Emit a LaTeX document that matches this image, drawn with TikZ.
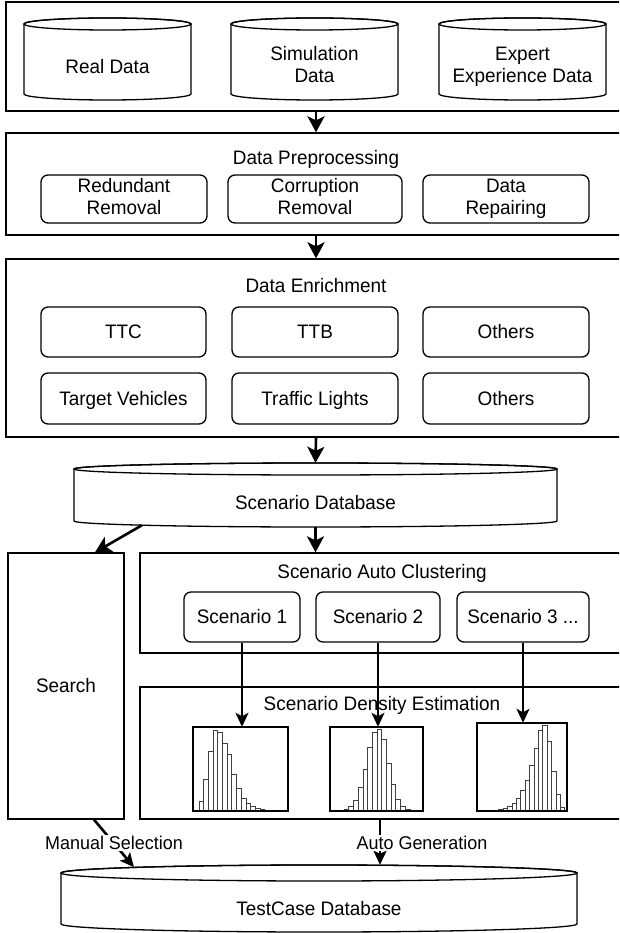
\documentclass[tikz,border=0pt]{standalone}
\usepackage{fontspec}
\setmainfont[FakeStretch=0.97]{Liberation Sans}
\usetikzlibrary{arrows.meta,calc}

\newcommand{\mystrut}{\rule[-4.2pt]{0pt}{22.2pt}}
\newcommand{\mkbox}[7]{% style, name, x1,y1,x2,y2,text
  \pgfmathsetmacro{\myw}{#5-#3}\pgfmathsetmacro{\myh}{#6-#4}%
  \node[#1, minimum width=\myw pt, minimum height=\myh pt] (#2) at ({(#3+#5)/2},{-(#4+#6)/2}) {#7};%
}
\newcommand{\mkcyl}[7]{% name, x1,y1,x2,y2, ry, text
  \pgfmathsetmacro{\mycx}{(#2+#4)/2}%
  \pgfmathsetmacro{\myrx}{(#4-#2)/2}%
  \pgfmathsetmacro{\myw}{#4-#2}%
  \pgfmathsetmacro{\myh}{#5-#3}%
  \pgfmathsetmacro{\myty}{-(#3+2*#6+#5)/2-2}%
  \path[cyl] (#2,-#3-#6) -- (#2,-#5+#6) arc[start angle=180,end angle=360,x radius=\myrx,y radius=#6] -- (#4,-#3-#6) arc[start angle=0,end angle=180,x radius=\myrx,y radius=#6] -- cycle;
  \draw[line width=1.3pt] (\mycx,-#3-#6) ellipse[x radius=\myrx, y radius=#6];
  \node[inner sep=0pt, minimum width=\myw pt, minimum height=\myh pt] (#1) at (\mycx,{-(#3+#5)/2}) {};
  \node[txt] (#1t) at (\mycx,\myty) {#7};%
}
\newcommand{\mkhist}[4]{% frame, offset, width, heights
  \foreach \hh [count=\ii from 0] in {#4} {
    \draw[bar] ($(#1.south west)+({#2+\ii*#3},0)$) rectangle ++(#3,\hh);
  }%
}

\tikzset{
  every node/.style={font=\fontsize{19.5}{22}\selectfont},
  txt/.style={align=center, inner sep=0pt, execute at begin node=\mystrut, execute at end node=\mystrut},
  frame/.style={draw, line width=1.3pt, inner sep=0pt, txt},
  rbox/.style={draw, line width=1.3pt, rounded corners=7pt, inner sep=0pt, txt},
  bigarr/.style={line width=2.6pt, -{Stealth[length=16pt,width=17pt,inset=4pt]}},
  botarr/.style={line width=2.6pt, -{Stealth[length=14pt,width=13pt,inset=3pt]}},
  thinarr/.style={line width=1.7pt, -{Stealth[length=14pt,width=13pt,inset=3.5pt]}},
  cyl/.style={draw, line width=1.3pt, fill=white},
  bar/.style={draw=black!75, line width=0.6pt, fill=white},
  hframe/.style={draw=none, inner sep=0pt},
  elbl/.style={fill=white, inner sep=1pt, font=\fontsize{18.5}{21}\selectfont},
}

\begin{document}
\begin{tikzpicture}[x=1pt,y=1pt]
\useasboundingbox (0,0) rectangle (619,-933);
\clip (0,0) rectangle (619,-933);
\fill[white] (0,0) rectangle (619,-933);

% --- top: data sources
\mkbox{frame}{box1}{6}{2}{626}{111}{}
\mkcyl{real}{24}{18}{191}{100}{6}{Real Data}
\mkcyl{sim}{231}{18}{398}{100}{6}{Simulation\\Data}
\mkcyl{exp}{439}{18}{606}{100}{6}{Expert\\Experience Data}

% --- preprocessing
\mkbox{frame}{box2}{6}{133}{626}{235}{}
\node[txt] (pret) at (316,-158) {Data Preprocessing};
\mkbox{rbox}{pre1}{41}{175}{207}{223}{Redundant\\Removal}
\mkbox{rbox}{pre2}{228}{175}{402}{223}{Corruption\\Removal}
\mkbox{rbox}{pre3}{423}{175}{589}{223}{Data\\Repairing}

% --- enrichment
\mkbox{frame}{box3}{6}{259}{626}{437}{}
\node[txt] (enrt) at (316,-286) {Data Enrichment};
\mkbox{rbox}{e11}{41}{307}{206}{357}{TTC}
\mkbox{rbox}{e12}{232}{307}{398}{357}{TTB}
\mkbox{rbox}{e13}{423}{307}{589}{357}{Others}
\mkbox{rbox}{e21}{41}{373}{206}{424}{Target Vehicles}
\mkbox{rbox}{e22}{232}{373}{398}{424}{Traffic Lights}
\mkbox{rbox}{e23}{423}{373}{589}{424}{Others}

% --- scenario database
\mkcyl{sdb}{74}{463}{557}{527}{6}{Scenario Database}

% --- search
\mkbox{frame}{search}{8}{553}{124}{819}{Search}

% --- clustering
\mkbox{frame}{clus}{140}{553}{624}{653}{}
\node[txt] (clust) at (382,-572) {Scenario Auto Clustering};
\mkbox{rbox}{sc1}{184}{592}{300}{642}{Scenario 1}
\mkbox{rbox}{sc2}{316}{592}{440}{642}{Scenario 2}
\mkbox{rbox}{sc3}{457}{592}{589}{642}{Scenario 3 ...}

% --- density estimation
\mkbox{frame}{dens}{140}{687}{624}{819}{}
\node[txt] (denst) at (382,-704) {Scenario Density Estimation};
\mkbox{hframe}{h1}{193}{727}{288}{811}{}
\mkbox{hframe}{h2}{330}{727}{423}{811}{}
\mkbox{hframe}{h3}{477}{723}{567}{811}{}
\mkhist{h1}{6}{4.7}{10,32,60,81,79,68,57,37,23,13,8,5,3,2,1}
\mkhist{h2}{9.5}{4.7}{1,2,5,11,24,42,64,79,82,72,48,27,12,5,2,1}
\mkhist{h3}{13}{4.4}{1,1,2,3,5,8,13,21,31,46,63,81,86,70,40,17,4}
\draw[line width=1.6pt] (h1.south west) rectangle (h1.north east);
\draw[line width=1.6pt] (h2.south west) rectangle (h2.north east);
\draw[line width=1.6pt] (h3.south west) rectangle (h3.north east);

% --- testcase database
\mkcyl{tcdb}{61}{865}{577}{932}{8}{TestCase Database}

% --- connectors
\draw[bigarr] (box1.south) -- (box2.north);
\draw[bigarr] (box2.south) -- (box3.north);
\draw[bigarr] (box3.south) -- (sdb.north);
\draw[bigarr] (sdb.south) -- (sdb.south |- clus.north);
\draw[bigarr] ([xshift=-173.5pt,yshift=2pt]sdb.south) -- ([xshift=29pt]search.north);
\draw[thinarr] (sc1.south) -- (sc1.south |- h1.north);
\draw[thinarr] (sc2.south) -- (sc2.south |- h2.north);
\draw[thinarr] (sc3.south) -- (sc3.south |- h3.north);
\draw[botarr] ([xshift=28pt]search.south) -- ([xshift=-185pt,yshift=-2.4pt]tcdb.north);
\draw[botarr] ([xshift=-2pt]dens.south) -- ([xshift=-2pt]dens.south |- tcdb.north);
\node[elbl] (ms) at (114,-843) {Manual Selection};
\node[elbl] (ag) at (422,-843) {Auto Generation};
\end{tikzpicture}
\end{document}
